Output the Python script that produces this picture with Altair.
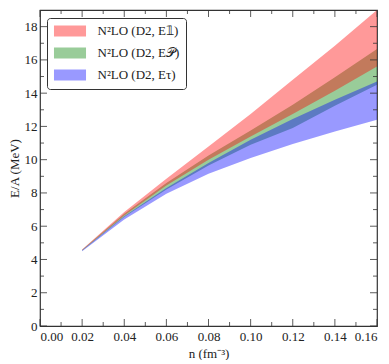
import altair as alt
import pandas as pd

# ---- data ----
n_vals = [0.02, 0.04, 0.06, 0.08, 0.10, 0.12, 0.14, 0.16]
red_lo = [4.55, 6.65, 8.45, 10.0, 11.4, 12.75, 14.15, 15.6]
red_hi = [4.60, 6.85, 8.85, 10.8, 12.75, 14.8, 16.85, 19.0]
green_lo = [4.52, 6.55, 8.2, 9.65, 10.9, 11.9, 13.25, 14.5]
green_hi = [4.58, 6.75, 8.6, 10.25, 11.75, 13.3, 14.95, 16.65]
blue_lo = [4.50, 6.4, 7.95, 9.15, 10.1, 10.95, 11.7, 12.4]
blue_hi = [4.55, 6.6, 8.3, 9.8, 11.2, 12.45, 13.6, 14.7]

labels = ["N²LO (D2, E𝟙)", "N²LO (D2, E𝒫)", "N²LO (D2, Eτ)"]
colors = ["#ff0000", "#008000", "#0000ff"]

x_major = [0.00, 0.02, 0.04, 0.06, 0.08, 0.10, 0.12, 0.14, 0.16]
x_minor = [0.01, 0.03, 0.05, 0.07, 0.09, 0.11, 0.13, 0.15]
y_major = [0, 2, 4, 6, 8, 10, 12, 14, 16, 18]
y_minor = [1, 3, 5, 7, 9, 11, 13, 15, 17]

W, H = 337, 316
FRAME = "#333333"
FONT = "Liberation Serif, Times New Roman, serif"

xscale = alt.Scale(domain=[0, 0.16], nice=False, zero=False)
yscale = alt.Scale(domain=[0, 19], nice=False, zero=False)
fillscale = alt.Scale(domain=labels, range=colors)


def band(lo, hi, label):
    return pd.DataFrame({"n": n_vals, "lo": lo, "hi": hi, "label": label})


df_red = band(red_lo, red_hi, labels[0])
df_green = band(green_lo, green_hi, labels[1])
df_blue = band(blue_lo, blue_hi, labels[2])

legend = alt.Legend(
    title=None, orient="none", legendX=7, legendY=8,
    symbolType="M-2.67,-0.9H2.67V0.9H-2.67Z", symbolSize=144,
    symbolOffset=10, labelOffset=21, padding=6.5, rowPadding=8,
    strokeColor=FRAME, fillColor="white", cornerRadius=3,
    labelFont=FONT, labelFontSize=13, labelColor="#222222", labelLimit=300,
    symbolOpacity=0.4, symbolStrokeWidth=0,
)

xaxis = alt.Axis(values=x_major, format=".2f", title="n (fm⁻³)", domain=False,
                 ticks=False, grid=False, labelPadding=4, titlePadding=4)
yaxis = alt.Axis(values=y_major, title="E/A (MeV)", domain=False, ticks=False,
                 grid=False, labelPadding=3, titlePadding=3)


def area_layer(df):
    return alt.Chart(df).mark_area(opacity=0.4).encode(
        x=alt.X("n:Q", scale=xscale, axis=xaxis),
        y=alt.Y("lo:Q", scale=yscale, axis=yaxis),
        y2="hi:Q",
        fill=alt.Fill("label:N", scale=fillscale, legend=legend),
    )


layers = [area_layer(df_green), area_layer(df_red), area_layer(df_blue)]

# inward ticks on all four sides
for vals, length in ((x_major, 7), (x_minor, 4)):
    d = pd.DataFrame({"n": vals})
    for y1, y2 in ((H, H - length), (0, length)):
        layers.append(
            alt.Chart(d).mark_rule(color=FRAME, strokeWidth=0.8).encode(
                x=alt.X("n:Q", scale=xscale, axis=xaxis),
                y=alt.value(y1), y2=alt.value(y2),
            )
        )
for vals, length in ((y_major, 7), (y_minor, 4)):
    d = pd.DataFrame({"lo": vals})
    for x1, x2 in ((0, length), (W, W - length)):
        layers.append(
            alt.Chart(d).mark_rule(color=FRAME, strokeWidth=0.8).encode(
                y=alt.Y("lo:Q", scale=yscale, axis=yaxis),
                x=alt.value(x1), x2=alt.value(x2),
            )
        )

chart = alt.layer(*layers).properties(
    width=W, height=H,
    padding={"left": 0, "top": 1, "right": 0, "bottom": 0},
).configure_view(
    stroke=FRAME, strokeWidth=1.2
).configure_axis(
    labelFont=FONT, labelFontSize=13, labelColor="#222222",
    titleFont=FONT, titleFontSize=13, titleFontWeight="normal", titleColor="#222222",
)

chart.save("out.html", embed_options={"renderer": "svg", "actions": False})
